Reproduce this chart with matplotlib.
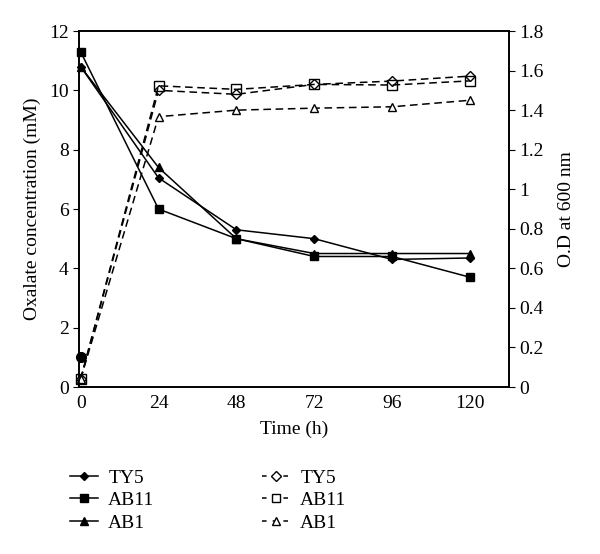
import matplotlib.pyplot as plt
from matplotlib.lines import Line2D

plt.rcParams['font.family'] = ['Liberation Serif', 'DejaVu Serif']

# time points (h)
time = [0, 24, 48, 72, 96, 120]

# oxalate concentration (mM), left axis
ox_ty5 = [10.8, 7.05, 5.3, 5.0, 4.3, 4.35]
ox_ab11 = [11.3, 6.0, 5.0, 4.4, 4.4, 3.7]
ox_ab1 = [10.8, 7.4, 5.0, 4.5, 4.5, 4.5]

# optical density at 600 nm, right axis
od_ty5 = [0.04, 1.50, 1.48, 1.53, 1.547, 1.572]
od_ab11 = [0.04, 1.523, 1.505, 1.53, 1.527, 1.548]
od_ab1 = [0.04, 1.367, 1.40, 1.41, 1.417, 1.45]

# lone filled circle at t = 0
circle_t = [0]
circle_val = [1.0]

labels = ['TY5', 'AB11', 'AB1']

fig = plt.figure(figsize=(6, 5.54), dpi=100)
ax = fig.add_axes([0.1317, 0.3014, 0.7166, 0.6426])
ax2 = ax.twinx()

lw = 1.1
ax.plot(time, ox_ty5, 'k-', marker='D', ms=4, lw=lw, clip_on=False)
ax.plot(time, ox_ab11, 'k-', marker='s', ms=6, lw=lw, clip_on=False)
ax.plot(time, ox_ab1, 'k-', marker='^', ms=6, lw=lw, clip_on=False)
ax.plot(circle_t, circle_val, 'ko', ms=7, clip_on=False)

dash = (0, (5, 3))
ax2.plot(time, od_ty5, color='k', ls=dash, marker='D', ms=5, mfc='white', lw=lw, clip_on=False)
ax2.plot(time, od_ab11, color='k', ls=dash, marker='s', ms=7, mfc='none', lw=lw, clip_on=False)
ax2.plot(time, od_ab1, color='k', ls=dash, marker='^', ms=6, mfc='white', lw=lw, clip_on=False)

ax.set_xlim(-0.5, 132)
ax.set_ylim(0, 12)
ax2.set_ylim(0, 1.8)
ax.set_xticks(time)
ax.set_yticks(range(0, 13, 2))
ax2.set_yticks([0, 0.2, 0.4, 0.6, 0.8, 1, 1.2, 1.4, 1.6, 1.8])
ax2.set_yticklabels(['0', '0.2', '0.4', '0.6', '0.8', '1', '1.2', '1.4', '1.6', '1.8'])

ax.tick_params(axis='x', length=0, labelsize=14, pad=6)
ax.tick_params(axis='y', direction='out', length=4, labelsize=14)
ax2.tick_params(axis='y', direction='out', length=4, labelsize=14)
for a in (ax, ax2):
    for s in a.spines.values():
        s.set_linewidth(1.2)

ax.set_xlabel('Time (h)', fontsize=14, labelpad=6)
ax.set_ylabel('Oxalate concentration (mM)', fontsize=14, labelpad=6)
ax2.set_ylabel('O.D at 600 nm', fontsize=14, labelpad=10)

leg_dash = (0, (3, 4))
handles = [
    Line2D([], [], color='k', marker='D', ms=4, lw=lw),
    Line2D([], [], color='k', marker='s', ms=6, lw=lw),
    Line2D([], [], color='k', marker='^', ms=6, lw=lw),
    Line2D([], [], color='k', ls=leg_dash, marker='D', ms=5, mfc='white', lw=lw),
    Line2D([], [], color='k', ls=leg_dash, marker='s', ms=6, mfc='white', lw=lw),
    Line2D([], [], color='k', ls=leg_dash, marker='^', ms=6, mfc='white', lw=lw),
]
fig.legend(handles, labels + labels, ncol=2, loc='upper left',
           bbox_to_anchor=(0.088, 0.185), frameon=False, fontsize=14,
           handlelength=1.45, handletextpad=0.5, columnspacing=5.55,
           labelspacing=0.25)

fig.savefig('out.png', dpi=100)
